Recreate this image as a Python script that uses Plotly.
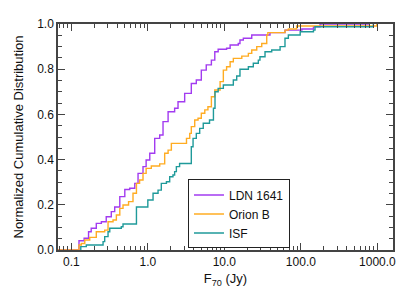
import plotly.graph_objects as go

# ---- data (flux in Jy, normalized cumulative fraction) ----
ldn_flux = [0.067, 0.126, 0.147, 0.168, 0.182, 0.212, 0.247, 0.286, 0.333, 0.369, 0.43, 0.5, 0.58,
            0.675, 0.745, 0.865, 0.95, 1.06, 1.23, 1.43, 1.58, 1.84, 2.24, 2.48, 3.03, 3.7, 4.3,
            5.0, 5.8, 6.77, 7.5, 8.3, 10.7, 11.9, 15.2, 16.0, 17.7, 22.8, 39.5, 62.0, 103.0,
            146.0, 178.0, 800.0]
ldn_frac = [0.0, 0.041, 0.052, 0.081, 0.096, 0.118, 0.125, 0.147, 0.17, 0.19, 0.236, 0.268, 0.273,
            0.295, 0.339, 0.369, 0.398, 0.428, 0.494, 0.509, 0.568, 0.612, 0.627, 0.656, 0.693,
            0.737, 0.752, 0.796, 0.819, 0.84, 0.877, 0.888, 0.893, 0.907, 0.914, 0.929, 0.937,
            0.951, 0.962, 0.973, 0.978, 0.988, 1.0, 1.0]

orib_flux = [0.067, 0.126, 0.135, 0.15, 0.174, 0.212, 0.273, 0.302, 0.351, 0.388, 0.43, 0.474,
             0.56, 0.64, 0.71, 0.78, 0.865, 0.95, 1.11, 1.43, 1.66, 1.84, 2.03, 3.2, 3.53, 3.7,
             4.1, 4.53, 5.0, 5.55, 6.1, 6.77, 7.5, 8.8, 9.7, 10.7, 11.9, 13.1, 16.9, 20.6, 22.8,
             26.5, 30.8, 35.8, 37.0, 62.0, 68.6, 88.0, 982.0]
orib_frac = [0.0, 0.022, 0.029, 0.044, 0.056, 0.081, 0.088, 0.125, 0.133, 0.155, 0.184, 0.199,
             0.214, 0.251, 0.295, 0.31, 0.339, 0.361, 0.372, 0.381, 0.428, 0.442, 0.472, 0.494,
             0.516, 0.546, 0.575, 0.583, 0.605, 0.62, 0.634, 0.678, 0.708, 0.745, 0.796, 0.811,
             0.833, 0.848, 0.858, 0.87, 0.885, 0.9, 0.914, 0.951, 0.962, 0.973, 0.978, 0.991, 1.0]

isf_flux = [0.133, 0.133, 0.157, 0.26, 0.273, 0.302, 0.318, 0.45, 0.474, 0.71, 1.0, 1.17, 1.36,
            1.5, 1.75, 1.93, 2.13, 2.24, 2.36, 2.6, 3.7, 3.9, 4.3, 4.76, 5.3, 6.4, 7.2, 7.55, 8.3,
            9.7, 13.1, 14.5, 16.0, 20.6, 23.9, 27.8, 29.2, 34.0, 41.6, 53.5, 62.0, 68.6, 98.0,
            146.0, 153.0, 885.0]
isf_frac = [0.0, 0.015, 0.022, 0.037, 0.059, 0.081, 0.096, 0.103, 0.115, 0.19, 0.221, 0.251,
            0.265, 0.295, 0.302, 0.324, 0.332, 0.347, 0.369, 0.383, 0.457, 0.494, 0.516, 0.538,
            0.561, 0.575, 0.627, 0.70, 0.715, 0.73, 0.752, 0.77, 0.80, 0.811, 0.826, 0.84,
            0.855, 0.877, 0.885, 0.90, 0.937, 0.951, 0.966, 0.973, 0.988, 1.0]

x_tickvals = [0.1, 1, 10, 100, 1000]
x_ticktext = ["0.1", "1.0", "10.0", "100.0", "1000.0"]
y_tickvals = [0.0, 0.2, 0.4, 0.6, 0.8, 1.0]
y_ticktext = ["0.0", "0.2", "0.4", "0.6", "0.8", "1.0"]

series = [
    ("LDN 1641", ldn_flux, ldn_frac, "#A23BF0"),
    ("Orion B", orib_flux, orib_frac, "#FFAC22"),
    ("ISF", isf_flux, isf_frac, "#1F9A9A"),
]

fig = go.Figure()
for name, xs, ys, col in series:
    fig.add_trace(go.Scatter(x=xs, y=ys, mode="lines", name=name,
                             line=dict(color=col, width=1.4, shape="hv")))

minor_x = [m * 10.0 ** e for e in range(-2, 4) for m in range(2, 10)]
axis_col = "#444444"
fam = "Liberation Sans, Arial, sans-serif"
tick_font = dict(family=fam, size=12, color="#111111")
title_font = dict(family=fam, size=13, color="#111111")

fig.update_xaxes(type="log", range=[-1.174, 3.204],
                 tickmode="array", tickvals=x_tickvals, ticktext=x_ticktext,
                 ticks="inside", ticklen=7, tickwidth=1, tickcolor=axis_col,
                 showline=True, linecolor=axis_col, linewidth=1.5, mirror="ticks",
                 showgrid=False, zeroline=False,
                 minor=dict(tickvals=minor_x, ticks="inside", ticklen=4, tickcolor=axis_col, showgrid=False),
                 title=dict(text="F<sub>70</sub> (Jy)", font=title_font, standoff=6),
                 tickfont=tick_font)
fig.update_yaxes(range=[0, 1],
                 tickmode="array", tickvals=y_tickvals, ticktext=y_ticktext,
                 ticks="inside", ticklen=7, tickwidth=1, tickcolor=axis_col,
                 showline=True, linecolor=axis_col, linewidth=1.5, mirror="ticks",
                 showgrid=False, zeroline=False,
                 minor=dict(dtick=0.05, tick0=0, ticks="inside", ticklen=4, tickcolor=axis_col, showgrid=False),
                 title=dict(text="Normalized Cumulative Distribution", font=title_font, standoff=11),
                 tickfont=tick_font)

fig.update_layout(
    width=415, height=297,
    margin=dict(l=58, r=22, t=24, b=47),
    paper_bgcolor="white", plot_bgcolor="white",
    font=tick_font,
    showlegend=True,
    legend=dict(x=0.388, y=0.312, xanchor="left", yanchor="top",
                bgcolor="white", bordercolor="#222222", borderwidth=1,
                font=dict(family=fam, size=12, color="#111111"),
                tracegroupgap=0),
)

fig.write_html("out.html", config={"displayModeBar": False},
               post_script="document.body.style.margin='0px';")
